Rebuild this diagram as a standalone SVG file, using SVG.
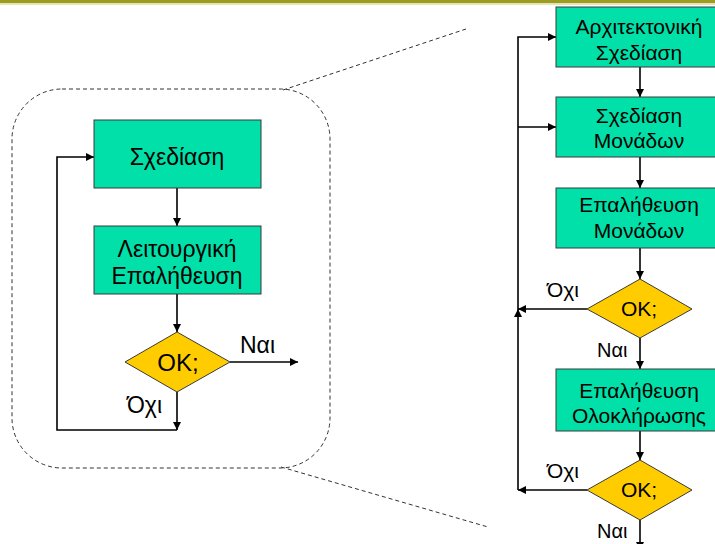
<svg xmlns="http://www.w3.org/2000/svg" width="715" height="544" viewBox="0 0 715 544">
<style>
.box{fill:#00E0A8;stroke:#3a3a3a;stroke-width:1}
.dia{fill:#FFCC00;stroke:#3a3a3a;stroke-width:1}
.t{font-family:"Liberation Sans",Arial,sans-serif;fill:#000;text-anchor:middle}
.l{font-family:"Liberation Sans",Arial,sans-serif;fill:#000}
.c{fill:none;stroke:#000;stroke-width:1.6}
.d{fill:none;stroke:#333;stroke-width:1;stroke-dasharray:4 3}
</style>
<defs>
<marker id="ah" viewBox="0 0 10 10" refX="10" refY="5" markerWidth="9" markerHeight="8" markerUnits="userSpaceOnUse" orient="auto">
<path d="M0,0 L10,5 L0,10 z" fill="#000"/>
</marker>
</defs>
<rect x="0" y="0" width="715" height="544" fill="#fff"/>
<line x1="0" y1="1.5" x2="715" y2="1.5" stroke="#9C9C1E" stroke-width="3"/>
<line x1="0" y1="4" x2="715" y2="4" stroke="#E4E4BC" stroke-width="2"/>

<g id="zoom-frame">
<rect class="d" x="12" y="89" width="318" height="379" rx="50" ry="50"/>
<line class="d" x1="283" y1="90" x2="466" y2="29"/>
<line class="d" x1="281" y1="467" x2="488" y2="527"/>
</g>

<g id="connectors">
<line class="c" x1="177" y1="188" x2="177" y2="226" marker-end="url(#ah)"/>
<line class="c" x1="177" y1="294" x2="177" y2="332" marker-end="url(#ah)"/>
<line class="c" x1="230" y1="362" x2="298" y2="362" marker-end="url(#ah)"/>
<line class="c" x1="177" y1="392" x2="177" y2="430" marker-end="url(#ah)"/>
<polyline class="c" points="177,430 57,430 57,157 94,157" marker-end="url(#ah)"/>

<line class="c" x1="640" y1="67" x2="640" y2="97" marker-end="url(#ah)"/>
<line class="c" x1="640" y1="157" x2="640" y2="188" marker-end="url(#ah)"/>
<line class="c" x1="640" y1="248" x2="640" y2="279" marker-end="url(#ah)"/>
<line class="c" x1="640" y1="338" x2="640" y2="369" marker-end="url(#ah)"/>
<line class="c" x1="640" y1="431" x2="640" y2="460" marker-end="url(#ah)"/>
<line class="c" x1="640" y1="520" x2="640" y2="550" marker-end="url(#ah)"/>
<line class="c" x1="587" y1="309" x2="518" y2="309" marker-end="url(#ah)"/>
<line class="c" x1="587" y1="490" x2="518" y2="490" marker-end="url(#ah)"/>
<line class="c" x1="518" y1="490" x2="518" y2="309" marker-end="url(#ah)"/>
<polyline class="c" points="518,309 518,37 556,37" marker-end="url(#ah)"/>
<line class="c" x1="518" y1="127" x2="556" y2="127" marker-end="url(#ah)"/>
</g>

<g id="n-sxediasi">
<rect class="box" x="94" y="120" width="167" height="68"/>
<text class="t" x="177" y="165" font-size="23">Σχεδίαση</text>
</g>
<g id="n-leitourgiki">
<rect class="box" x="94" y="226" width="167" height="68"/>
<text class="t" x="177" y="257" font-size="23">Λειτουργική</text>
<text class="t" x="177" y="284" font-size="23">Επαλήθευση</text>
</g>
<g id="n-ok-left">
<polygon class="dia" points="177,332 230,362 177,392 125,362"/>
<text class="t" x="178" y="371" font-size="24">OK;</text>
</g>
<g id="lbl-left">
<text class="l" x="240" y="353" font-size="23">Ναι</text>
<text class="l" x="127" y="413" font-size="23">Όχι</text>
</g>

<g id="n-arxitektoniki">
<rect class="box" x="556" y="7" width="164" height="60"/>
<text class="t" x="639" y="34" font-size="21">Αρχιτεκτονική</text>
<text class="t" x="639" y="60" font-size="21">Σχεδίαση</text>
</g>
<g id="n-sxediasi-monadon">
<rect class="box" x="556" y="97" width="164" height="60"/>
<text class="t" x="639" y="123" font-size="21">Σχεδίαση</text>
<text class="t" x="639" y="148" font-size="21">Μονάδων</text>
</g>
<g id="n-epalitheusi-monadon">
<rect class="box" x="556" y="188" width="164" height="60"/>
<text class="t" x="639" y="212" font-size="21">Επαλήθευση</text>
<text class="t" x="639" y="238" font-size="21">Μονάδων</text>
</g>
<g id="n-ok-1">
<polygon class="dia" points="640,279 692,309 640,338 587,309"/>
<text class="t" x="639" y="316" font-size="21">OK;</text>
</g>
<g id="n-oloklirosi">
<rect class="box" x="556" y="369" width="164" height="62"/>
<text class="t" x="639" y="398" font-size="21">Επαλήθευση</text>
<text class="t" x="639" y="423" font-size="21">Ολοκλήρωσης</text>
</g>
<g id="n-ok-2">
<polygon class="dia" points="640,460 692,490 640,520 587,490"/>
<text class="t" x="639" y="497" font-size="21">OK;</text>
</g>
<g id="lbl-right">
<text class="l" x="547" y="297" font-size="21">Όχι</text>
<text class="l" x="597" y="357" font-size="20">Ναι</text>
<text class="l" x="547" y="478" font-size="21">Όχι</text>
<text class="l" x="597" y="538" font-size="20">Ναι</text>
</g>
</svg>
